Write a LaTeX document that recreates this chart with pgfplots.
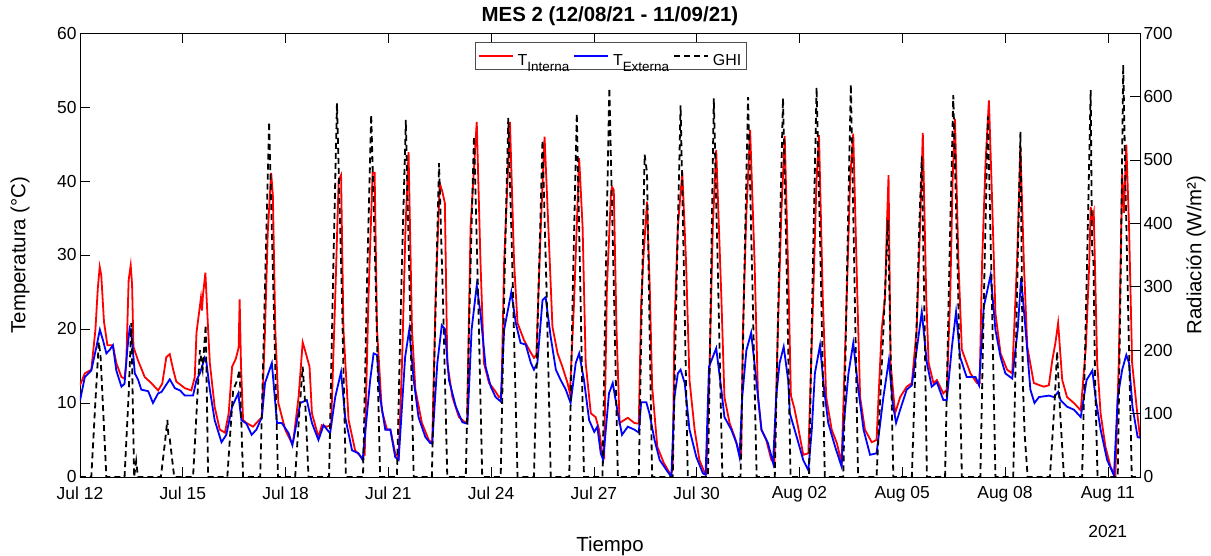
\documentclass[border=0pt]{standalone}
\usepackage{fontspec}
\setmainfont{Liberation Sans}
\usepackage{pgfplots}
\pgfplotsset{compat=1.18}
\usetikzlibrary{calc}
\newcommand{\Tsub}[1]{\rule[-12bp]{0pt}{32bp}T\raisebox{-0.75ex}{\fontsize{13.5}{13.5}\selectfont #1}}
\begin{document}
\begin{tikzpicture}
\pgfplotsset{
  common/.style={
    scale only axis, width=1060bp, height=444bp,
    xmin=0, xmax=30.94,
    tick align=inside, major tick length=10bp,
    tick style={black, line width=0.6bp},
    axis line style={black, line width=0.6bp},
    ticklabel style={font=\fontsize{17.5}{19}\selectfont},
    /pgf/number format/assume math mode=true,
    label style={font=\fontsize{20.5}{22}\selectfont},
  }
}
\begin{axis}[common, name=main, clip mode=individual,
  ymin=0, ymax=60,
  xtick={0,3,...,30},
  xticklabels={Jul 12,Jul 15,Jul 18,Jul 21,Jul 24,Jul 27,Jul 30,Aug 02,Aug 05,Aug 08,Aug 11},
  ytick={0,10,...,60},
  xtick pos=both, ytick pos=left, xticklabel pos=lower,
  xticklabel style={yshift=-6bp},
  xlabel={Tiempo}, ylabel={Temperatura (°C)},
  xlabel style={at={(0.5,-0.157)}, anchor=center},
  ylabel style={at={(-0.0566,0.5)}, anchor=center},
  title={MES 2 (12/08/21 - 11/09/21)},
  title style={at={(0.5,1.024)}, anchor=center, font=\bfseries\fontsize{20.5}{22}\selectfont},
]
\addplot[red, line width=1.8bp] coordinates {
(0.00,12.4) (0.14,14.0) (0.33,14.5) (0.45,19.9) (0.52,25.5) (0.575,28.4) (0.62,27.3) (0.70,21.0) (0.80,17.8) (0.96,17.8) (1.06,15.4) (1.21,13.5) (1.30,13.3) (1.35,15.4) (1.42,26.6) (1.48,28.6) (1.52,26.0) (1.56,17.6) (1.69,15.8) (1.89,13.5) (2.08,12.7) (2.28,11.7) (2.40,12.6) (2.52,16.2) (2.62,16.6) (2.72,14.5) (2.81,12.9) (3.06,12.0) (3.25,11.7) (3.35,13.5) (3.40,19.5) (3.53,24.2) (3.56,22.5) (3.59,24.6) (3.66,27.6) (3.74,19.9) (3.79,15.4) (3.93,9.5) (4.08,6.4) (4.23,6.0) (4.34,8.6) (4.44,14.9) (4.55,16.0) (4.63,17.5) (4.66,24.0) (4.70,15.0) (4.76,7.7) (4.86,7.3) (5.05,6.8) (5.31,8.1) (5.40,19.9) (5.48,33.0) (5.58,41.1) (5.63,38.0) (5.70,19.9) (5.79,10.0) (5.99,6.4) (6.18,4.6) (6.23,5.0) (6.38,10.8) (6.50,18.2) (6.57,17.1) (6.70,14.9) (6.77,8.6) (6.96,5.4) (7.06,7.0) (7.20,6.8) (7.33,7.0) (7.45,24.3) (7.55,40.1) (7.62,40.8) (7.69,19.9) (7.84,7.7) (8.03,3.6) (8.23,2.6) (8.31,3.0) (8.42,24.3) (8.54,41.1) (8.60,41.1) (8.67,19.9) (8.81,9.0) (8.96,6.4) (9.06,6.4) (9.20,3.2) (9.30,2.6) (9.40,15.4) (9.50,33.5) (9.59,43.9) (9.69,19.9) (9.79,11.8) (9.98,7.3) (10.18,5.0) (10.28,4.6) (10.38,24.3) (10.50,39.7) (10.58,38.5) (10.65,37.0) (10.72,15.4) (10.87,10.8) (11.06,8.1) (11.26,7.3) (11.30,7.7) (11.40,33.8) (11.58,48.0) (11.69,29.0) (11.79,15.4) (11.94,12.7) (12.09,11.8) (12.23,10.8) (12.30,11.0) (12.38,29.0) (12.55,48.0) (12.67,29.0) (12.77,20.8) (12.96,18.5) (13.11,17.2) (13.25,16.1) (13.32,16.5) (13.45,33.8) (13.56,46.0) (13.67,33.8) (13.79,20.3) (13.94,16.7) (14.08,14.9) (14.23,12.7) (14.30,11.3) (14.42,23.5) (14.57,43.1) (14.67,33.8) (14.76,15.4) (14.91,8.6) (15.05,8.1) (15.15,6.4) (15.25,3.0) (15.30,2.7) (15.38,25.7) (15.50,38.5) (15.53,39.2) (15.58,38.8) (15.66,19.9) (15.75,7.3) (15.99,8.0) (16.18,7.3) (16.31,7.2) (16.38,23.5) (16.44,29.3) (16.55,37.2) (16.63,25.7) (16.70,12.2) (16.85,4.1) (17.04,1.9) (17.24,0.3) (17.30,1.0) (17.35,19.9) (17.45,33.8) (17.58,41.2) (17.69,29.0) (17.79,13.1) (17.94,6.4) (18.08,2.3) (18.23,0.6) (18.28,0.4) (18.38,15.4) (18.47,33.8) (18.57,44.2) (18.72,24.3) (18.81,10.8) (18.96,7.3) (19.11,5.4) (19.25,3.2) (19.30,3.0) (19.35,19.9) (19.45,35.6) (19.56,46.9) (19.69,29.0) (19.79,10.8) (19.89,6.4) (20.03,5.0) (20.18,2.3) (20.27,1.9) (20.37,19.9) (20.47,35.6) (20.57,46.1) (20.69,24.0) (20.75,11.0) (20.85,9.3) (20.95,7.0) (21.11,3.0) (21.26,3.2) (21.40,24.3) (21.50,40.4) (21.57,46.2) (21.68,24.3) (21.78,10.8) (21.94,6.4) (22.09,4.6) (22.23,1.9) (22.38,24.3) (22.48,40.4) (22.57,46.4) (22.69,24.3) (22.77,10.8) (22.91,6.4) (23.11,4.7) (23.25,5.0) (23.40,19.9) (23.50,24.3) (23.55,33.8) (23.60,40.8) (23.66,15.4) (23.79,8.6) (23.94,10.8) (24.13,12.2) (24.28,12.7) (24.42,19.9) (24.52,33.8) (24.60,46.5) (24.70,24.3) (24.77,15.4) (24.91,12.7) (25.01,13.1) (25.20,11.3) (25.30,11.8) (25.40,24.3) (25.47,40.1) (25.54,48.4) (25.64,29.0) (25.74,17.2) (25.88,15.4) (25.99,14.0) (26.18,12.7) (26.26,12.7) (26.33,28.9) (26.43,42.4) (26.53,50.9) (26.62,37.8) (26.72,22.1) (26.87,16.7) (27.06,14.5) (27.21,14.0) (27.35,28.9) (27.45,44.5) (27.55,28.9) (27.65,17.6) (27.84,12.7) (28.13,12.2) (28.28,12.4) (28.38,15.8) (28.47,18.1) (28.55,20.8) (28.67,13.1) (28.81,10.8) (29.01,10.0) (29.21,9.0) (29.36,17.6) (29.46,29.0) (29.50,36.5) (29.55,34.8) (29.59,35.7) (29.69,15.4) (29.79,8.6) (29.93,4.1) (30.08,1.4) (30.22,0.1) (30.32,15.4) (30.42,41.1) (30.47,35.7) (30.54,44.9) (30.62,33.8) (30.71,15.4) (30.86,8.6) (30.94,5.4)
};
\addplot[blue, line width=1.8bp] coordinates {
(0.00,10.3) (0.14,13.5) (0.33,14.4) (0.48,17.6) (0.58,19.9) (0.67,18.5) (0.77,16.7) (0.87,17.2) (0.96,17.8) (1.06,14.4) (1.21,12.2) (1.30,12.6) (1.38,17.2) (1.45,20.1) (1.50,19.5) (1.60,14.0) (1.70,13.1) (1.79,11.8) (1.99,11.6) (2.13,10.0) (2.28,11.3) (2.38,11.5) (2.62,13.2) (2.77,12.0) (2.92,11.7) (3.06,11.0) (3.30,11.0) (3.40,13.1) (3.50,14.0) (3.64,16.1) (3.69,15.5) (3.79,11.8) (3.93,7.7) (4.13,4.7) (4.27,5.7) (4.44,9.5) (4.62,11.3) (4.71,7.7) (4.86,7.2) (5.01,5.7) (5.15,6.4) (5.31,8.1) (5.40,12.7) (5.60,15.4) (5.75,7.3) (5.89,7.3) (6.09,5.9) (6.20,4.3) (6.43,10.0) (6.62,10.4) (6.77,7.3) (6.96,5.0) (7.11,7.0) (7.30,5.9) (7.45,10.8) (7.62,14.2) (7.74,8.1) (7.94,3.6) (8.13,3.2) (8.25,2.3) (8.47,13.1) (8.57,16.7) (8.67,16.5) (8.76,10.8) (8.91,6.4) (9.06,6.4) (9.20,2.7) (9.30,2.3) (9.49,16.2) (9.61,19.9) (9.74,13.1) (9.88,8.1) (10.08,5.4) (10.22,4.6) (10.28,4.5) (10.43,15.4) (10.56,20.5) (10.65,20.0) (10.77,13.1) (10.97,9.5) (11.16,7.4) (11.31,7.2) (11.43,19.9) (11.58,25.9) (11.69,22.1) (11.84,14.9) (11.99,12.2) (12.13,10.8) (12.28,10.2) (12.38,19.9) (12.59,25.0) (12.72,20.8) (12.86,18.1) (13.01,17.9) (13.16,15.4) (13.25,14.5) (13.35,15.4) (13.50,23.9) (13.59,24.3) (13.74,18.9) (13.89,14.5) (14.03,13.1) (14.18,11.8) (14.32,10.0) (14.47,15.4) (14.57,16.7) (14.71,13.1) (14.86,7.7) (15.01,6.1) (15.10,6.8) (15.20,3.2) (15.27,2.3) (15.44,11.3) (15.55,12.7) (15.70,8.6) (15.82,5.7) (15.99,6.8) (16.18,6.4) (16.31,6.0) (16.38,10.1) (16.53,10.1) (16.62,8.6) (16.77,5.0) (16.92,2.3) (17.11,1.0) (17.26,0.0) (17.35,10.8) (17.45,14.0) (17.53,14.5) (17.65,12.7) (17.79,6.4) (17.99,2.7) (18.18,0.5) (18.26,0.3) (18.36,14.9) (18.57,17.4) (18.72,11.8) (18.81,8.1) (19.01,6.4) (19.16,4.6) (19.25,2.7) (19.33,10.8) (19.45,17.1) (19.59,19.5) (19.74,13.1) (19.89,6.4) (20.08,4.6) (20.23,1.9) (20.32,10.8) (20.42,15.4) (20.54,17.6) (20.67,13.1) (20.72,8.6) (20.92,5.4) (21.11,2.3) (21.26,0.9) (21.36,6.4) (21.45,14.0) (21.60,17.8) (21.72,11.8) (21.84,7.3) (22.04,4.1) (22.23,1.4) (22.28,6.4) (22.43,14.0) (22.57,18.1) (22.72,11.8) (22.87,6.4) (23.06,3.0) (23.25,3.2) (23.45,10.8) (23.61,15.8) (23.72,10.0) (23.82,7.3) (23.94,9.1) (24.13,11.8) (24.28,12.4) (24.42,17.1) (24.57,22.3) (24.72,15.4) (24.86,12.2) (25.01,12.8) (25.20,10.4) (25.30,10.4) (25.45,17.6) (25.57,22.3) (25.69,16.2) (25.88,13.5) (25.99,13.5) (26.14,13.5) (26.24,12.4) (26.38,23.0) (26.58,27.3) (26.72,19.9) (26.87,16.2) (27.01,14.0) (27.21,13.3) (27.37,19.9) (27.47,26.9) (27.60,19.9) (27.74,11.8) (27.86,10.0) (27.99,10.8) (28.28,11.0) (28.43,10.8) (28.55,11.5) (28.62,10.4) (28.81,9.5) (29.01,9.1) (29.21,8.1) (29.38,13.1) (29.50,14.0) (29.55,14.4) (29.64,10.8) (29.79,6.4) (29.98,2.3) (30.18,0.2) (30.29,10.8) (30.42,14.5) (30.54,16.5) (30.62,15.4) (30.72,9.5) (30.87,5.4) (30.94,5.3)
};
\node[font=\fontsize{17.5}{19}\selectfont] at (axis description cs:0.9696,-0.122) {2021};
\end{axis}
\begin{axis}[common,
  ymin=0, ymax=700,
  ytick={0,100,...,700},
  hide x axis, axis y line*=right,
  ylabel={Radiación (W/m²)},
  ylabel style={at={(1.0528,0.5)}, anchor=center},
  legend columns=3,
  legend style={at={(0.5005,0.98)}, anchor=north, draw=black!70, line width=0.6bp,
    font=\fontsize{16}{18}\selectfont, inner xsep=3bp, inner ysep=1bp,
    /tikz/every odd column/.append style={column sep=2bp},
    /tikz/every even column/.append style={column sep=2bp}},
  legend image code/.code={\draw[#1] (0bp,0bp) -- (34bp,0bp);},
]
\addlegendimage{red, line width=1.8bp}
\addlegendentry{\Tsub{Interna}}
\addlegendimage{blue, line width=1.8bp}
\addlegendentry{\Tsub{Externa}}
\addplot[black, line width=1.8bp, dash pattern=on 6bp off 4bp] coordinates {
(0,0) (0.33,0) (0.44,110) (0.55,213) (0.60,190) (0.77,0) (1.30,0) (1.42,130) (1.50,243) (1.58,0) (1.64,25) (1.69,0) (2.36,0) (2.47,50) (2.55,90) (2.58,65) (2.62,60) (2.75,0) (3.30,0) (3.42,120) (3.50,200) (3.58,170) (3.67,240) (3.74,0) (4.30,0) (4.47,137) (4.57,150) (4.66,169) (4.76,0) (5.26,0) (5.40,300) (5.52,560) (5.64,300) (5.78,0) (6.28,0) (6.40,100) (6.50,174) (6.58,110) (6.67,0) (7.27,0) (7.39,320) (7.50,589) (7.63,320) (7.76,0) (8.26,0) (8.38,310) (8.50,571) (8.63,310) (8.76,0) (9.25,0) (9.38,300) (9.51,563) (9.62,300) (9.74,0) (10.27,0) (10.38,270) (10.48,495) (10.60,270) (10.72,0) (11.26,0) (11.38,290) (11.50,537) (11.62,290) (11.74,0) (12.28,0) (12.39,310) (12.50,566) (12.63,310) (12.77,0) (13.25,0) (13.38,290) (13.50,531) (13.62,290) (13.74,0) (14.28,0) (14.39,310) (14.50,573) (14.60,310) (14.71,0) (15.25,0) (15.35,330) (15.45,613) (15.57,330) (15.70,0) (16.31,0) (16.40,280) (16.48,508) (16.55,480) (16.62,250) (16.70,0) (17.30,0) (17.42,320) (17.53,586) (17.63,320) (17.74,0) (18.33,0) (18.42,320) (18.50,597) (18.62,320) (18.75,0) (19.28,0) (19.39,320) (19.50,599) (19.62,320) (19.75,0) (20.28,0) (20.40,320) (20.52,597) (20.63,320) (20.74,0) (21.28,0) (21.39,330) (21.50,614) (21.62,330) (21.74,0) (22.28,0) (22.39,330) (22.50,619) (22.60,330) (22.71,0) (23.25,0) (23.45,232) (23.53,337) (23.58,405) (23.66,200) (23.74,0) (24.28,0) (24.40,200) (24.50,400) (24.57,505) (24.65,250) (24.72,0) (25.25,0) (25.37,320) (25.49,602) (25.62,320) (25.74,0) (26.28,0) (26.39,300) (26.50,568) (26.61,300) (26.72,0) (27.24,0) (27.35,290) (27.45,544) (27.52,150) (27.57,70) (27.66,0) (28.31,0) (28.45,120) (28.52,198) (28.60,110) (28.72,0) (29.25,0) (29.38,300) (29.50,610) (29.54,360) (29.58,340) (29.63,150) (29.70,0) (30.29,0) (30.38,330) (30.45,650) (30.52,450) (30.60,250) (30.70,0) (30.94,0)
};
\addlegendentry{\rule[-12bp]{0pt}{32bp}GHI}
\end{axis}
\pgfresetboundingbox
\path ($(main.south west)+(-80bp,-79bp)$) rectangle ($(main.north east)+(71bp,33bp)$);
\end{tikzpicture}
\end{document}
